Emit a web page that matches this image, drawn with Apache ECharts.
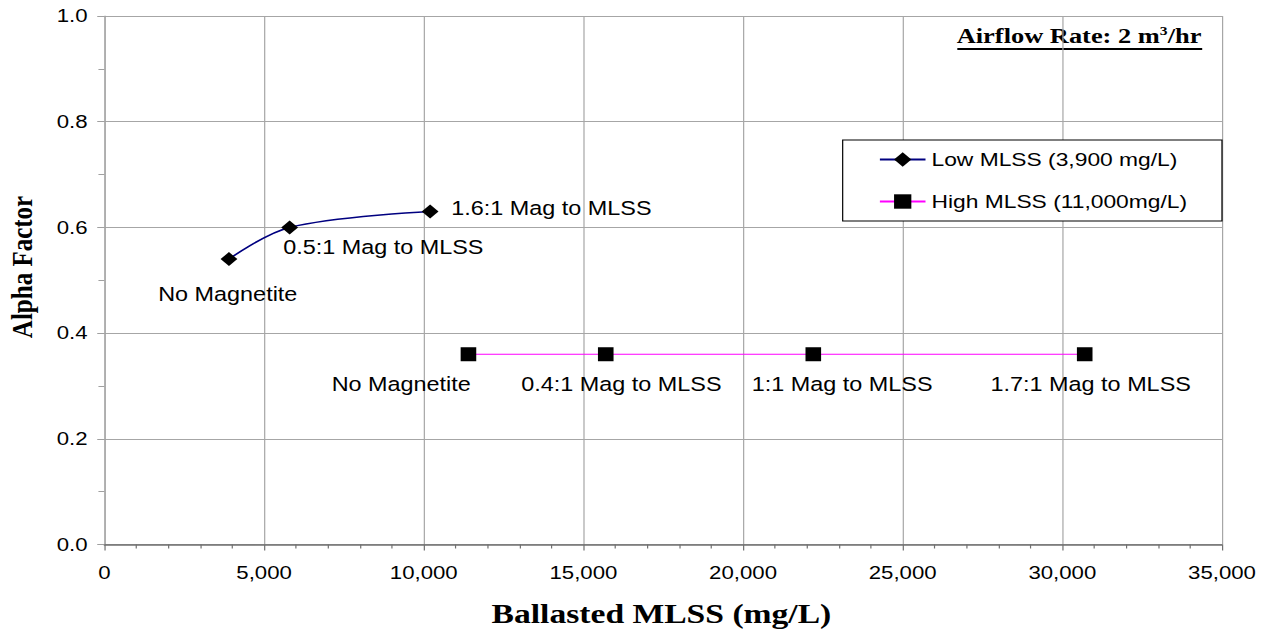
<!DOCTYPE html>
<html>
<head>
<meta charset="utf-8">
<script src="https://cdn.jsdelivr.net/npm/echarts@6/dist/echarts.min.js"></script>
<style>
  html, body { margin: 0; padding: 0; background: #fff; overflow: hidden; }
  /* the reference is drawn a bit wide, so the chart is laid out narrow and stretched */
  #chart { width: 1058px; height: 635px; transform: scaleX(1.2004); transform-origin: 0 0; }
</style>
</head>
<body>
<div id="chart"></div>
<script>
var lowX = [3900, 5800, 10200];
var lowY = [0.54, 0.60, 0.63];
var lowNotes = ['No Magnetite', '0.5:1 Mag to MLSS', '1.6:1 Mag to MLSS'];

var highX = [11400, 15700, 22200, 30700];
var highY = [0.36, 0.36, 0.36, 0.36];
var highNotes = ['No Magnetite', '0.4:1 Mag to MLSS', '1:1 Mag to MLSS', '1.7:1 Mag to MLSS'];

var seriesNames = ['Low MLSS (3,900 mg/L)', 'High MLSS (11,000mg/L)'];

var SANS = "'Liberation Sans', Arial, sans-serif";
var SERIF = "'Liberation Serif', 'Times New Roman', serif";

// where each note sits relative to its point
var lowOffsets = [[-1, 36], [78, 20], [101, -3]];
var highOffsets = [[-56, 30], [13, 30], [24, 30], [5, 30]];

function buildPoints(xs, ys, notes, offsets) {
  var out = [];
  for (var i = 0; i < xs.length; i++) {
    out.push({
      value: [xs[i], ys[i]],
      label: {
        show: true,
        formatter: notes[i],
        position: 'inside',
        align: 'center',
        verticalAlign: 'middle',
        offset: offsets[i]
      }
    });
  }
  return out;
}

var chart = echarts.init(document.getElementById('chart'), null, { renderer: 'svg' });

var option = {
  animation: false,
  backgroundColor: '#fff',
  grid: { left: 87, right: 40, top: 16, bottom: 90.5 },
  legend: {
    orient: 'vertical',
    left: 702,
    top: 140,
    padding: [10, 29, 10, 30],
    itemGap: 23,
    itemWidth: 38,
    itemHeight: 18,
    borderColor: '#000',
    borderWidth: 1,
    backgroundColor: '#fff',
    textStyle: { fontFamily: SANS, fontSize: 19, color: '#000' },
    data: seriesNames
  },
  xAxis: {
    type: 'value',
    min: 0,
    max: 35000,
    interval: 5000,
    axisLine: { show: true, lineStyle: { color: '#707070', width: 1.5 } },
    axisTick: { show: true, length: 6, lineStyle: { color: '#707070' } },
    minorTick: { show: true, splitNumber: 5, length: 4, lineStyle: { color: '#707070' } },
    splitLine: { show: true, lineStyle: { color: '#a6a6a6', width: 1 } },
    axisLabel: {
      margin: 19,
      fontFamily: SANS,
      fontSize: 18.5,
      color: '#000',
      formatter: function (v) { return v.toLocaleString('en-US'); }
    }
  },
  yAxis: {
    type: 'value',
    min: 0,
    max: 1,
    interval: 0.2,
    axisLine: { show: true, lineStyle: { color: '#a0a0a0' } },
    axisTick: { show: true, length: 6, lineStyle: { color: '#a0a0a0' } },
    minorTick: { show: true, splitNumber: 2, length: 5, lineStyle: { color: '#a0a0a0' } },
    splitLine: { show: true, lineStyle: { color: '#a6a6a6', width: 1 } },
    axisLabel: {
      margin: 14,
      fontFamily: SANS,
      fontSize: 18.5,
      color: '#000',
      formatter: function (v) { return v.toFixed(1); }
    }
  },
  series: [
    {
      name: seriesNames[0],
      type: 'line',
      smooth: 0.35,
      symbol: 'diamond',
      symbolSize: [14, 14],
      itemStyle: { color: '#000' },
      lineStyle: { color: '#000080', width: 1.6 },
      label: { fontFamily: SANS, fontSize: 19.5, color: '#000' },
      data: buildPoints(lowX, lowY, lowNotes, lowOffsets)
    },
    {
      name: seriesNames[1],
      type: 'line',
      symbol: 'rect',
      symbolSize: [13, 14],
      itemStyle: { color: '#000' },
      lineStyle: { color: '#ff00ff', width: 1.2 },
      label: { fontFamily: SANS, fontSize: 19.5, color: '#000' },
      data: buildPoints(highX, highY, highNotes, highOffsets)
    }
  ],
  graphic: [
    {
      type: 'text',
      x: 18, y: 267,
      rotation: Math.PI / 2,
      style: {
        text: 'Alpha Factor',
        fontFamily: SERIF, fontSize: 25, fontWeight: 'bold', fill: '#000',
        align: 'center', verticalAlign: 'middle'
      }
    },
    {
      type: 'text',
      x: 551, y: 613,
      style: {
        text: 'Ballasted MLSS (mg/L)',
        fontFamily: SERIF, fontSize: 28, fontWeight: 'bold', fill: '#000',
        align: 'center', verticalAlign: 'middle'
      }
    },
    {
      type: 'text',
      x: 797, y: 35,
      style: {
        text: '{a|Airflow Rate: 2 m}{s|3}{a|/hr}',
        fontFamily: SERIF, fontWeight: 'bold', fill: '#000',
        align: 'left', verticalAlign: 'middle',
        rich: {
          a: { fontFamily: SERIF, fontSize: 22, fontWeight: 'bold', color: '#000' },
          s: { fontFamily: SERIF, fontSize: 13, fontWeight: 'bold', color: '#000', verticalAlign: 'top', padding: [0, 0, 10, 0] }
        }
      }
    },
    {
      type: 'line',
      shape: { x1: 797.5, y1: 49, x2: 1001.5, y2: 49 },
      style: { stroke: '#000', lineWidth: 2.2 }
    }
  ]
};

chart.setOption(option);
</script>
</body>
</html>
